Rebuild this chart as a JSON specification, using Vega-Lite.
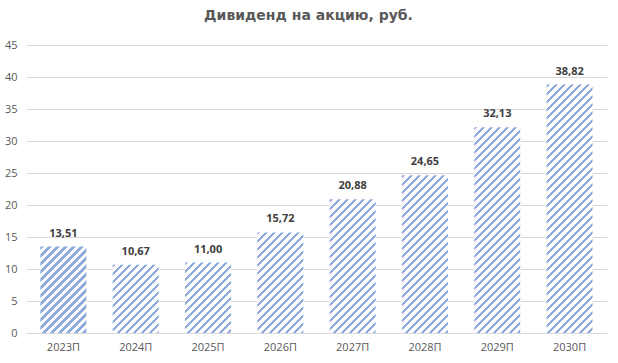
{
  "$schema": "https://vega.github.io/schema/vega-lite/v6.json",
  "width": 581,
  "height": 288,
  "autosize": {"type": "none"},
  "padding": {"left": 26, "top": 45, "right": 11, "bottom": 30},
  "background": "white",
  "config": {
    "view": {"stroke": null},
    "locale": {"number": {"decimal": ",", "thousands": " ", "grouping": [3], "currency": ["", " руб."]}}
  },
  "title": {
    "text": "Дивиденд на акцию, руб.",
    "font": "DejaVu Sans",
    "fontSize": 14,
    "fontWeight": "bold",
    "color": "#595959",
    "anchor": "middle",
    "frame": "group",
    "baseline": "alphabetic",
    "offset": 5,
    "dx": -8
  },
  "params": [
    {"name": "stripes", "value": [
      {"offset":0,"color":"#8faadc"},{"offset":0.01,"color":"#8faadc"},{"offset":0.01,"color":"#fff"},{"offset":0.025,"color":"#fff"},
      {"offset":0.025,"color":"#8faadc"},{"offset":0.035,"color":"#8faadc"},{"offset":0.035,"color":"#fff"},{"offset":0.05,"color":"#fff"},
      {"offset":0.05,"color":"#8faadc"},{"offset":0.06,"color":"#8faadc"},{"offset":0.06,"color":"#fff"},{"offset":0.075,"color":"#fff"},
      {"offset":0.075,"color":"#8faadc"},{"offset":0.085,"color":"#8faadc"},{"offset":0.085,"color":"#fff"},{"offset":0.1,"color":"#fff"},
      {"offset":0.1,"color":"#8faadc"},{"offset":0.11,"color":"#8faadc"},{"offset":0.11,"color":"#fff"},{"offset":0.125,"color":"#fff"},
      {"offset":0.125,"color":"#8faadc"},{"offset":0.135,"color":"#8faadc"},{"offset":0.135,"color":"#fff"},{"offset":0.15,"color":"#fff"},
      {"offset":0.15,"color":"#8faadc"},{"offset":0.16,"color":"#8faadc"},{"offset":0.16,"color":"#fff"},{"offset":0.175,"color":"#fff"},
      {"offset":0.175,"color":"#8faadc"},{"offset":0.185,"color":"#8faadc"},{"offset":0.185,"color":"#fff"},{"offset":0.2,"color":"#fff"},
      {"offset":0.2,"color":"#8faadc"},{"offset":0.21,"color":"#8faadc"},{"offset":0.21,"color":"#fff"},{"offset":0.225,"color":"#fff"},
      {"offset":0.225,"color":"#8faadc"},{"offset":0.235,"color":"#8faadc"},{"offset":0.235,"color":"#fff"},{"offset":0.25,"color":"#fff"},
      {"offset":0.25,"color":"#8faadc"},{"offset":0.26,"color":"#8faadc"},{"offset":0.26,"color":"#fff"},{"offset":0.275,"color":"#fff"},
      {"offset":0.275,"color":"#8faadc"},{"offset":0.285,"color":"#8faadc"},{"offset":0.285,"color":"#fff"},{"offset":0.3,"color":"#fff"},
      {"offset":0.3,"color":"#8faadc"},{"offset":0.31,"color":"#8faadc"},{"offset":0.31,"color":"#fff"},{"offset":0.325,"color":"#fff"},
      {"offset":0.325,"color":"#8faadc"},{"offset":0.335,"color":"#8faadc"},{"offset":0.335,"color":"#fff"},{"offset":0.35,"color":"#fff"},
      {"offset":0.35,"color":"#8faadc"},{"offset":0.36,"color":"#8faadc"},{"offset":0.36,"color":"#fff"},{"offset":0.375,"color":"#fff"},
      {"offset":0.375,"color":"#8faadc"},{"offset":0.385,"color":"#8faadc"},{"offset":0.385,"color":"#fff"},{"offset":0.4,"color":"#fff"},
      {"offset":0.4,"color":"#8faadc"},{"offset":0.41,"color":"#8faadc"},{"offset":0.41,"color":"#fff"},{"offset":0.425,"color":"#fff"},
      {"offset":0.425,"color":"#8faadc"},{"offset":0.435,"color":"#8faadc"},{"offset":0.435,"color":"#fff"},{"offset":0.45,"color":"#fff"},
      {"offset":0.45,"color":"#8faadc"},{"offset":0.46,"color":"#8faadc"},{"offset":0.46,"color":"#fff"},{"offset":0.475,"color":"#fff"},
      {"offset":0.475,"color":"#8faadc"},{"offset":0.485,"color":"#8faadc"},{"offset":0.485,"color":"#fff"},{"offset":0.5,"color":"#fff"},
      {"offset":0.5,"color":"#8faadc"},{"offset":0.51,"color":"#8faadc"},{"offset":0.51,"color":"#fff"},{"offset":0.525,"color":"#fff"},
      {"offset":0.525,"color":"#8faadc"},{"offset":0.535,"color":"#8faadc"},{"offset":0.535,"color":"#fff"},{"offset":0.55,"color":"#fff"},
      {"offset":0.55,"color":"#8faadc"},{"offset":0.56,"color":"#8faadc"},{"offset":0.56,"color":"#fff"},{"offset":0.575,"color":"#fff"},
      {"offset":0.575,"color":"#8faadc"},{"offset":0.585,"color":"#8faadc"},{"offset":0.585,"color":"#fff"},{"offset":0.6,"color":"#fff"},
      {"offset":0.6,"color":"#8faadc"},{"offset":0.61,"color":"#8faadc"},{"offset":0.61,"color":"#fff"},{"offset":0.625,"color":"#fff"},
      {"offset":0.625,"color":"#8faadc"},{"offset":0.635,"color":"#8faadc"},{"offset":0.635,"color":"#fff"},{"offset":0.65,"color":"#fff"},
      {"offset":0.65,"color":"#8faadc"},{"offset":0.66,"color":"#8faadc"},{"offset":0.66,"color":"#fff"},{"offset":0.675,"color":"#fff"},
      {"offset":0.675,"color":"#8faadc"},{"offset":0.685,"color":"#8faadc"},{"offset":0.685,"color":"#fff"},{"offset":0.7,"color":"#fff"},
      {"offset":0.7,"color":"#8faadc"},{"offset":0.71,"color":"#8faadc"},{"offset":0.71,"color":"#fff"},{"offset":0.725,"color":"#fff"},
      {"offset":0.725,"color":"#8faadc"},{"offset":0.735,"color":"#8faadc"},{"offset":0.735,"color":"#fff"},{"offset":0.75,"color":"#fff"},
      {"offset":0.75,"color":"#8faadc"},{"offset":0.76,"color":"#8faadc"},{"offset":0.76,"color":"#fff"},{"offset":0.775,"color":"#fff"},
      {"offset":0.775,"color":"#8faadc"},{"offset":0.785,"color":"#8faadc"},{"offset":0.785,"color":"#fff"},{"offset":0.8,"color":"#fff"},
      {"offset":0.8,"color":"#8faadc"},{"offset":0.81,"color":"#8faadc"},{"offset":0.81,"color":"#fff"},{"offset":0.825,"color":"#fff"},
      {"offset":0.825,"color":"#8faadc"},{"offset":0.835,"color":"#8faadc"},{"offset":0.835,"color":"#fff"},{"offset":0.85,"color":"#fff"},
      {"offset":0.85,"color":"#8faadc"},{"offset":0.86,"color":"#8faadc"},{"offset":0.86,"color":"#fff"},{"offset":0.875,"color":"#fff"},
      {"offset":0.875,"color":"#8faadc"},{"offset":0.885,"color":"#8faadc"},{"offset":0.885,"color":"#fff"},{"offset":0.9,"color":"#fff"},
      {"offset":0.9,"color":"#8faadc"},{"offset":0.91,"color":"#8faadc"},{"offset":0.91,"color":"#fff"},{"offset":0.925,"color":"#fff"},
      {"offset":0.925,"color":"#8faadc"},{"offset":0.935,"color":"#8faadc"},{"offset":0.935,"color":"#fff"},{"offset":0.95,"color":"#fff"},
      {"offset":0.95,"color":"#8faadc"},{"offset":0.96,"color":"#8faadc"},{"offset":0.96,"color":"#fff"},{"offset":0.975,"color":"#fff"},
      {"offset":0.975,"color":"#8faadc"},{"offset":0.985,"color":"#8faadc"},{"offset":0.985,"color":"#fff"},{"offset":1,"color":"#fff"}
    ]}
  ],
  "data": {"values": [
    {"year": "2023П", "v": 13.51},
    {"year": "2024П", "v": 10.67},
    {"year": "2025П", "v": 11.00},
    {"year": "2026П", "v": 15.72},
    {"year": "2027П", "v": 20.88},
    {"year": "2028П", "v": 24.65},
    {"year": "2029П", "v": 32.13},
    {"year": "2030П", "v": 38.82}
  ]},
  "encoding": {
    "x": {
      "field": "year", "type": "nominal", "sort": null, "title": null,
      "scale": {"paddingInner": 0.365, "paddingOuter": 0.2},
      "axis": {
        "labelAngle": 0, "ticks": false, "domain": true, "domainColor": "#d9d9d9",
        "labelFont": "Open Sans", "labelFontSize": 11, "labelColor": "#595959",
        "labelPadding": 8, "grid": false
      }
    },
    "y": {
      "field": "v", "type": "quantitative", "title": null,
      "scale": {"domain": [0, 45], "nice": false},
      "axis": {
        "values": [0, 5, 10, 15, 20, 25, 30, 35, 40, 45],
        "ticks": false, "domain": false, "grid": true, "gridColor": "#d9d9d9",
        "labelFont": "Open Sans", "labelFontSize": 11, "labelColor": "#595959",
        "labelPadding": 9
      }
    }
  },
  "layer": [
    {
      "mark": {
        "type": "bar",
        "fill": {"expr": "{gradient: 'linear', x1: 0, y1: 0, x2: 320*bandwidth('x')/(pow(bandwidth('x'),2)+pow(scale('y',0)-scale('y',datum.v),2)), y2: 320*(scale('y',0)-scale('y',datum.v))/(pow(bandwidth('x'),2)+pow(scale('y',0)-scale('y',datum.v),2)), stops: stripes}"}
      }
    },
    {
      "mark": {
        "type": "text", "baseline": "alphabetic", "dy": -10,
        "font": "Open Sans", "fontSize": 11, "fontWeight": "bold", "fill": "#404040"
      },
      "encoding": {
        "text": {"field": "v", "type": "quantitative", "format": ".2f"}
      }
    }
  ]
}
